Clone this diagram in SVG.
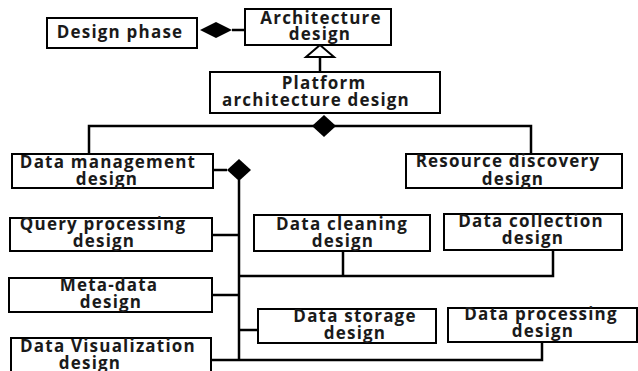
<svg xmlns="http://www.w3.org/2000/svg" width="638" height="371" viewBox="0 0 638 371">
<style>
.box{fill:#fff;stroke:#000;stroke-width:2}
.t{font-family:"Open Sans","DejaVu Sans",sans-serif;font-weight:700;font-size:17px;letter-spacing:1.2px;fill:#1a1a1a;text-anchor:middle}
.c{fill:none;stroke:#000;stroke-width:2.5}
.dia{fill:#000;stroke:none}
</style>
<rect width="638" height="371" fill="#fff"/>
<g id="connectors">
<line class="c" x1="232" y1="30" x2="245" y2="30"/>
<polygon class="dia" points="200,30 216,22 232,30 216,38"/>
<line class="c" x1="320" y1="57" x2="320" y2="72"/>
<polygon points="320,45 306,57 334,57" fill="#fff" stroke="#000" stroke-width="2"/>
<polyline class="c" points="89,154 89,126 531,126 531,154"/>
<polygon class="dia" points="312,126 324,115 336,126 324,137"/>
<line class="c" x1="213" y1="170" x2="227" y2="170"/>
<line class="c" x1="239" y1="180" x2="239" y2="361"/>
<polygon class="dia" points="227,170 239,159 251,170 239,181"/>
<line class="c" x1="212" y1="235" x2="239" y2="235"/>
<polyline class="c" points="239,276 553,276 553,250"/>
<line class="c" x1="343" y1="251" x2="343" y2="276"/>
<line class="c" x1="212" y1="295" x2="239" y2="295"/>
<line class="c" x1="239" y1="330" x2="258" y2="330"/>
<polyline class="c" points="211,360 542,360 542,342"/>
</g>
<g id="design-phase"><rect class="box" x="47" y="18" width="150" height="30"/><text class="t" x="120" y="38">Design phase</text></g>
<g id="architecture-design"><rect class="box" x="245" y="9" width="146" height="36"/><text class="t"><tspan x="321" y="24">Architecture</tspan><tspan x="320" y="40">design</tspan></text></g>
<g id="platform-architecture-design"><rect class="box" x="210" y="72" width="230" height="41"/><text class="t"><tspan x="324" y="89">Platform</tspan><tspan x="316" y="106">architecture design</tspan></text></g>
<g id="data-management-design"><rect class="box" x="12" y="154" width="201" height="34"/><text class="t"><tspan x="108" y="168">Data management</tspan><tspan x="107" y="185">design</tspan></text></g>
<g id="resource-discovery-design"><rect class="box" x="406" y="154" width="216" height="34"/><text class="t"><tspan x="508" y="167">Resource discovery</tspan><tspan x="513" y="185">design</tspan></text></g>
<g id="query-processing-design"><rect class="box" x="10" y="218" width="202" height="33"/><text class="t"><tspan x="103" y="230">Query processing</tspan><tspan x="104" y="247">design</tspan></text></g>
<g id="data-cleaning-design"><rect class="box" x="254" y="215" width="176" height="36"/><text class="t"><tspan x="342" y="230">Data cleaning</tspan><tspan x="343" y="247">design</tspan></text></g>
<g id="data-collection-design"><rect class="box" x="444" y="214" width="178" height="36"/><text class="t"><tspan x="531" y="227">Data collection</tspan><tspan x="533" y="244">design</tspan></text></g>
<g id="meta-data-design"><rect class="box" x="9" y="278" width="203" height="34"/><text class="t"><tspan x="109" y="291">Meta-data</tspan><tspan x="111" y="308">design</tspan></text></g>
<g id="data-storage-design"><rect class="box" x="258" y="309" width="178" height="34"/><text class="t"><tspan x="355" y="322">Data storage</tspan><tspan x="355" y="339">design</tspan></text></g>
<g id="data-processing-design"><rect class="box" x="448" y="308" width="189" height="34"/><text class="t"><tspan x="541" y="320">Data processing</tspan><tspan x="543" y="337">design</tspan></text></g>
<g id="data-visualization-design"><rect class="box" x="11" y="338" width="200" height="40"/><text class="t"><tspan x="108" y="352">Data Visualization</tspan><tspan x="90" y="369">design</tspan></text></g>
</svg>
